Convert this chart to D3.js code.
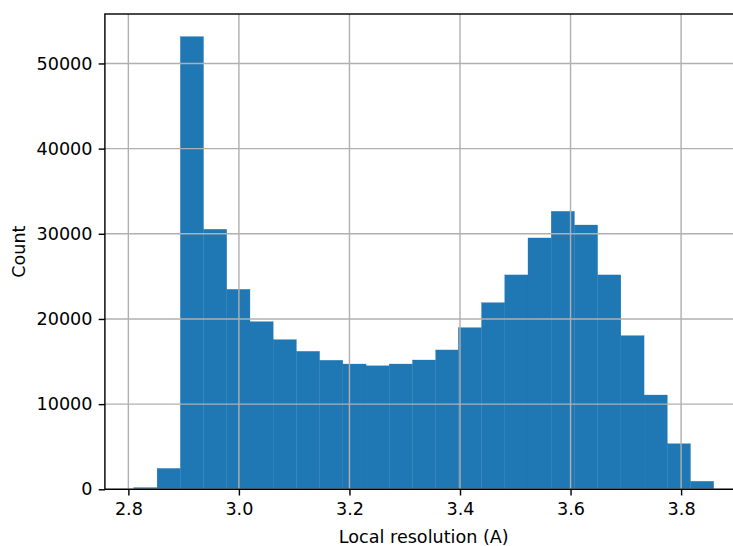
<!DOCTYPE html>
<html>
<head>
<meta charset="utf-8">
<script src="https://cdn.jsdelivr.net/npm/d3@7"></script>
<style>
  html, body { margin: 0; padding: 0; background: #fff; }
  svg { display: block; }
  text { font-family: "DejaVu Sans", sans-serif; font-size: 17.6px; fill: #000; }
</style>
</head>
<body>
<div id="chart"></div>
<script>
"use strict";

// histogram bin edges (local resolution, A)
var binEdges = [2.810, 2.852, 2.894, 2.936, 2.978, 3.020, 3.062, 3.104, 3.146,
  3.188, 3.230, 3.272, 3.314, 3.356, 3.397, 3.439, 3.481, 3.523, 3.565,
  3.607, 3.649, 3.691, 3.733, 3.775, 3.817, 3.859];

// counts per bin
var counts = [200, 2450, 53150, 30530, 23480, 19680, 17570, 16200, 15150,
  14710, 14500, 14710, 15180, 16360, 18980, 21910, 25170, 29510, 32640,
  31030, 25170, 18040, 11070, 5350, 940];

var xTicks = [2.8, 3.0, 3.2, 3.4, 3.6, 3.8];
var yTicks = [0, 10000, 20000, 30000, 40000, 50000];

(function () {
  var width = 733, height = 546;
  // plot area; the right spine falls just outside the picture
  var pLeft = 104.9, pRight = 742.7, pTop = 14, pBottom = 489.3;
  var lw = 1.42;      // 0.8pt at this scale
  var tickLen = 6.2;  // 3.5pt
  var fontSize = "17.6px";

  var svg = d3.select("#chart").append("svg")
    .attr("width", width)
    .attr("height", height);

  // matplotlib style 5% margins
  var span = binEdges[binEdges.length - 1] - binEdges[0];
  var x = d3.scaleLinear()
    .domain([binEdges[0] - span * 0.05, binEdges[binEdges.length - 1] + span * 0.05])
    .range([pLeft, pRight]);
  var y = d3.scaleLinear()
    .domain([0, d3.max(counts) * 1.05])
    .range([pBottom, pTop]);

  var bins = counts.map(function (c, i) {
    return { x0: binEdges[i], x1: binEdges[i + 1], count: c };
  });

  // bars
  svg.append("g")
    .selectAll("rect")
    .data(bins)
    .enter()
    .append("rect")
    .attr("x", function (d) { return x(d.x0); })
    .attr("width", function (d) { return x(d.x1) - x(d.x0); })
    .attr("y", function (d) { return y(d.count); })
    .attr("height", function (d) { return y(0) - y(d.count); })
    .style("fill", "#1f77b4")
    .style("stroke", "#1f77b4")
    .style("stroke-width", 0.3);

  // grid (drawn over the bars, like matplotlib)
  var grid = svg.append("g").attr("class", "grid");
  grid.selectAll(".gx").data(xTicks).enter().append("line")
    .attr("x1", function (d) { return x(d); })
    .attr("x2", function (d) { return x(d); })
    .attr("y1", pTop).attr("y2", pBottom)
    .style("stroke", "#b0b0b0").style("stroke-width", lw);
  grid.selectAll(".gy").data(yTicks).enter().append("line")
    .attr("x1", pLeft).attr("x2", pRight)
    .attr("y1", function (d) { return y(d); })
    .attr("y2", function (d) { return y(d); })
    .style("stroke", "#b0b0b0").style("stroke-width", lw);

  // axes
  var xAxis = d3.axisBottom(x).tickValues(xTicks).tickFormat(d3.format(".1f"))
    .tickSize(tickLen).tickPadding(7.3);
  var yAxis = d3.axisLeft(y).tickValues(yTicks).tickFormat(d3.format("d"))
    .tickSize(tickLen).tickPadding(6.2);

  var gx = svg.append("g")
    .attr("transform", "translate(0," + pBottom + ")")
    .call(xAxis);
  var gy = svg.append("g")
    .attr("transform", "translate(" + pLeft + ",0)")
    .call(yAxis);

  [gx, gy].forEach(function (g) {
    g.attr("font-size", null).attr("font-family", null);
    g.select(".domain").remove();
    g.selectAll(".tick line").style("stroke", "#000").style("stroke-width", lw);
    g.selectAll(".tick text")
      .style("font-family", "'DejaVu Sans', sans-serif")
      .style("font-size", fontSize)
      .style("fill", "#000");
  });

  // frame (spines)
  svg.append("rect")
    .attr("x", pLeft).attr("y", pTop)
    .attr("width", pRight - pLeft).attr("height", pBottom - pTop)
    .style("fill", "none")
    .style("stroke", "#000")
    .style("stroke-width", lw);

  // labels
  svg.append("text")
    .attr("x", (pLeft + pRight) / 2)
    .attr("y", 542.5)
    .attr("text-anchor", "middle")
    .style("font-size", fontSize)
    .text("Local resolution (A)");

  svg.append("text")
    .attr("transform", "translate(25," + ((pTop + pBottom) / 2) + ") rotate(-90)")
    .attr("text-anchor", "middle")
    .style("font-size", fontSize)
    .text("Count");
})();
</script>
</body>
</html>
